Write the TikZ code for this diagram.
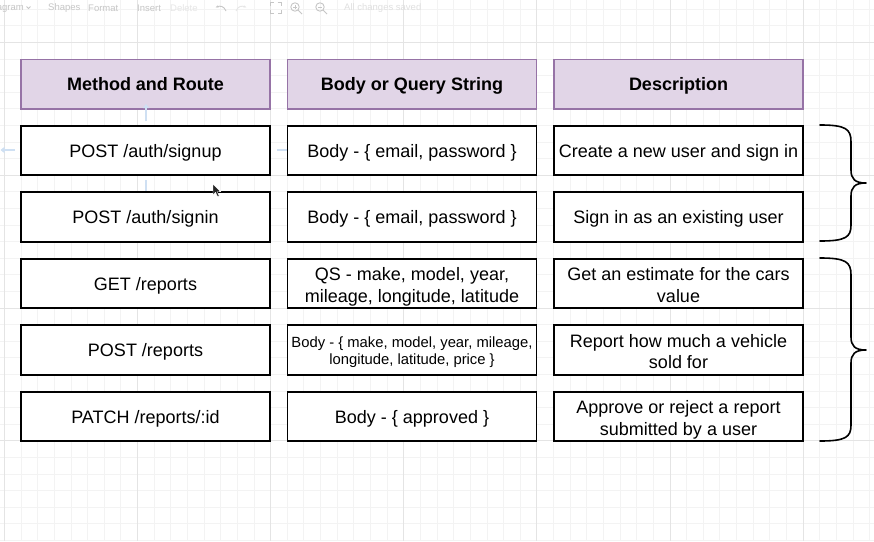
\documentclass[tikz,border=0pt]{standalone}
\usepackage{fontspec}
\setmainfont{Liberation Sans}
\usetikzlibrary{arrows.meta}
\definecolor{hdrfill}{HTML}{E1D5E7}
\definecolor{hdrline}{HTML}{9673A6}
\definecolor{gridminor}{HTML}{F3F3F3}
\definecolor{gridmajor}{HTML}{E4E4E4}
\definecolor{uigray}{HTML}{C6C6C6}
\definecolor{uilight}{HTML}{E6E6E6}
\definecolor{hintblue}{HTML}{CFE0F3}
\newcommand\ctone[1]{\raisebox{-2.3pt}[\height][\depth]{\begin{tabular}{@{}c@{}}#1\end{tabular}}}
\newcommand\cttwo[1]{\raisebox{-3.6pt}[\height][\depth]{\begin{tabular}{@{}c@{}}#1\end{tabular}}}
\begin{document}
\begin{tikzpicture}[x=1pt,y=-1pt,
  cell/.style={draw=black, line width=1.8pt, fill=white, minimum width=249pt, minimum height=49.5pt,
    inner sep=0pt, font=\fontsize{18}{21.5}\selectfont},
  hdr/.style={cell, fill=hdrfill, draw=hdrline, line width=1.5pt, font=\fontsize{18}{21.5}\selectfont\bfseries},
  small/.style={font=\fontsize{14.8}{17}\selectfont},
  brace/.style={draw=black, line width=1.6pt, line cap=round, line join=round},
  ui/.style={text=uigray, font=\fontsize{9.5}{11}\selectfont, inner sep=0pt, anchor=west},
  uiline/.style={draw=uigray, line width=0.9pt},
  hint/.style={draw=hintblue, line width=2pt, -{Triangle[length=4pt,width=6pt]}}]
\useasboundingbox (0,0) rectangle (874,541);
\clip (0,0) rectangle (874,541);
\fill[white] (0,0) rectangle (874,541);
% grid
\foreach \i in {0,...,53} \draw[gridminor, line width=0.8pt] (4.36+\i*16.64,0) -- (4.36+\i*16.64,541);
\foreach \i in {0,...,32} \draw[gridminor, line width=0.8pt] (0,9.2+\i*16.6) -- (874,9.2+\i*16.6);
\foreach \i in {0,...,6} \draw[gridmajor, line width=0.8pt] (4.36+\i*133.12,0) -- (4.36+\i*133.12,541);
\foreach \i in {0,...,3} \draw[gridmajor, line width=0.8pt] (0,42.4+\i*132.8) -- (874,42.4+\i*132.8);
% toolbar (faint)
\node[ui, anchor=east] (tbdiag) at (24,8) {Diagram};
\draw[uiline] (26.5,6.5) -- (28.5,8.5) -- (30.5,6.5);
\node[ui] (tbshapes) at (48,8) {Shapes};
\node[ui] (tbformat) at (88,8) {Format};
\node[ui] (tbinsert) at (137,8) {Insert};
\node[ui, text=uilight] (tbdelete) at (170,8) {Delete};
\draw[uiline, -{Stealth[length=3pt]}] (226,11) .. controls (224,6) and (220,5.5) .. (215.5,7.5);
\draw[draw=uilight, line width=0.9pt, -{Stealth[length=3pt]}] (236,11) .. controls (238,6) and (242,5.5) .. (246.5,7.5);
\draw[uiline] (270,6) -- (270,2.5) -- (273.5,2.5) (277.5,2.5) -- (281,2.5) -- (281,6) (281,10) -- (281,13.5) -- (277.5,13.5) (273.5,13.5) -- (270,13.5) -- (270,10);
\draw[uiline] (295,7) circle (4.2pt); \draw[uiline] (298,10) -- (302,14); \draw[uiline] (293,7) -- (297,7) (295,5) -- (295,9);
\draw[uiline] (320,7) circle (4.2pt); \draw[uiline] (323,10) -- (327,14); \draw[uiline] (318,7) -- (322,7);
\node[ui, text=uilight!80!uigray] (tbsaved) at (344,8) {All changes saved};
% header row
\node[hdr] (h1) at (145.5,84) {\ctone{Method and Route}};
\node[hdr] (h2) at (412,84) {\ctone{Body or Query String}};
\node[hdr] (h3) at (678.5,84) {\ctone{Description}};
% hover hints
\draw[hint] (146,121) -- (146,104);
\draw[hint] (146,180) -- (146,197);
\draw[hint] (15,150) -- (0.5,150);
\draw[hint] (277,150) -- (291.5,150);
% rows
\node[cell] (r1a) at (145.5,150.5) {\ctone{POST /auth/signup}};
\node[cell] (r1b) at (412,150.5) {\ctone{Body - \{ email, password \}}};
\node[cell] (r1c) at (678.5,150.5) {\ctone{Create a new user and sign in}};
\node[cell] (r2a) at (145.5,217) {\ctone{POST /auth/signin}};
\node[cell] (r2b) at (412,217) {\ctone{Body - \{ email, password \}}};
\node[cell] (r2c) at (678.5,217) {\ctone{Sign in as an existing user}};
\node[cell] (r3a) at (145.5,283.5) {\ctone{GET /reports}};
\node[cell] (r3b) at (412,283.5) {\cttwo{QS - make, model, year,\\mileage, longitude, latitude}};
\node[cell] (r3c) at (678.5,283.5) {\cttwo{Get an estimate for the cars\\value}};
\node[cell] (r4a) at (145.5,350) {\ctone{POST /reports}};
\node[cell, small] (r4b) at (412,350) {\ctone{Body - \{ make, model, year, mileage,\\longitude, latitude, price \}}};
\node[cell] (r4c) at (678.5,350) {\cttwo{Report how much a vehicle\\sold for}};
\node[cell] (r5a) at (145.5,416.5) {\ctone{PATCH /reports/:id}};
\node[cell] (r5b) at (412,416.5) {\ctone{Body - \{ approved \}}};
\node[cell] (r5c) at (678.5,416.5) {\cttwo{Approve or reject a report\\submitted by a user}};
% cursor
\filldraw[fill=black!85, draw=white, line width=0.4pt] (213,184) -- (213,195) -- (215.6,192.4) -- (217.6,196.6) -- (219.2,195.9) -- (217.3,191.8) -- (220.6,191.6) -- cycle;
% braces
\coordinate (b1top) at (820,125);
\coordinate (b1tip) at (866,183);
\coordinate (b1bot) at (820,241);
\draw[brace] (b1top) .. controls (846,125) and (851,129) .. (851,142) -- (851,170)
  .. controls (851,179) and (855,183) .. (b1tip)
  .. controls (855,183) and (851,187) .. (851,196) -- (851,225)
  .. controls (851,237) and (846,241) .. (b1bot);
\coordinate (b2top) at (820,258);
\coordinate (b2tip) at (866,350);
\coordinate (b2bot) at (820,441);
\draw[brace] (b2top) .. controls (846,258) and (851,262) .. (851,275) -- (851,337)
  .. controls (851,346) and (855,350) .. (b2tip)
  .. controls (855,350) and (851,354) .. (851,363) -- (851,425)
  .. controls (851,437) and (846,441) .. (b2bot);
\end{tikzpicture}
\end{document}
